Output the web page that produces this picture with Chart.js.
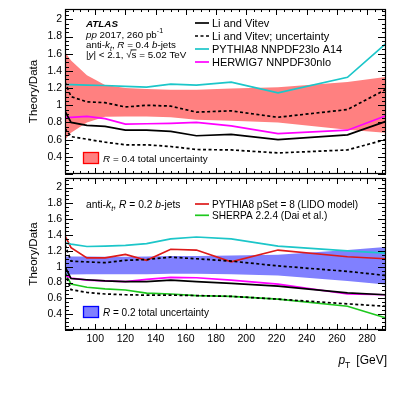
<!DOCTYPE html>
<html><head><meta charset="utf-8">
<script src="https://cdn.jsdelivr.net/npm/chart.js@4.4.0/dist/chart.umd.min.js"></script>
<style>
html,body{margin:0;padding:0;background:#fff;}
body{width:407px;height:396px;position:relative;overflow:hidden;}
canvas{position:absolute;left:0;}
</style></head>
<body>
<canvas id="c1" width="407" height="176" style="top:0px"></canvas>
<canvas id="c2" width="407" height="220" style="top:176px"></canvas>
<script>
// ---------------- data ----------------
const PT = [80, 84, 94.5, 106.5, 120, 134, 150, 167, 190, 221, 267, 292];
const X_TICKS = [100, 120, 140, 160, 180, 200, 220, 240, 260, 280];
const X_TICK_LABELS = ['100','120','140','160','180','200','220','240','260','280'];
const Y_TICKS = [0.4, 0.6, 0.8, 1.0, 1.2, 1.4, 1.6, 1.8, 2.0];
const Y_TICK_LABELS = ['0.4','0.6','0.8','1','1.2','1.4','1.6','1.8','2'];

// top panel, R = 0.4
const LV04      = [0.93, 0.80, 0.765, 0.755, 0.71, 0.71, 0.695, 0.645, 0.66, 0.60, 0.655, 0.81];
const LV04_UP   = [1.27, 1.10, 1.04, 1.03, 0.98, 1.00, 0.99, 0.92, 0.935, 0.86, 0.95, 1.18];
const LV04_DN   = [0.73, 0.635, 0.605, 0.57, 0.54, 0.54, 0.52, 0.485, 0.48, 0.445, 0.48, 0.60];
const PY04      = [1.24, 1.24, 1.235, 1.23, 1.22, 1.21, 1.245, 1.235, 1.27, 1.145, 1.325, 1.71];
const HW04      = [0.86, 0.86, 0.87, 0.845, 0.78, 0.785, 0.79, 0.80, 0.76, 0.67, 0.71, 0.875];
const UNC04_HI  = [1.62, 1.52, 1.35, 1.235, 1.20, 1.19, 1.18, 1.18, 1.195, 1.21, 1.27, 1.33];
const UNC04_LO  = [0.60, 0.68, 0.80, 0.865, 0.87, 0.87, 0.86, 0.83, 0.82, 0.80, 0.715, 0.68];

// bottom panel, R = 0.2
const LV02      = [1.00, 0.85, 0.835, 0.82, 0.81, 0.81, 0.83, 0.81, 0.79, 0.755, 0.67, 0.645];
const LV02_UP   = [1.28, 1.07, 1.06, 1.05, 1.08, 1.09, 1.12, 1.10, 1.07, 1.01, 0.94, 0.89];
const LV02_DN   = [0.92, 0.71, 0.675, 0.655, 0.645, 0.64, 0.64, 0.635, 0.625, 0.59, 0.53, 0.50];
const PY02      = [1.30, 1.285, 1.255, 1.26, 1.27, 1.29, 1.35, 1.375, 1.35, 1.26, 1.20, 1.17];
const HW02      = [0.89, 0.855, 0.83, 0.82, 0.81, 0.84, 0.865, 0.86, 0.83, 0.78, 0.655, 0.645];
const LIDO02    = [1.39, 1.24, 1.11, 1.11, 1.155, 1.08, 1.22, 1.21, 1.06, 1.21, 1.125, 1.10];
const SHERPA02  = [0.925, 0.78, 0.74, 0.72, 0.705, 0.665, 0.655, 0.635, 0.625, 0.59, 0.50, 0.355];
const UNC02_HI  = [1.13, 1.13, 1.13, 1.125, 1.125, 1.13, 1.135, 1.135, 1.14, 1.15, 1.21, 1.25];
const UNC02_LO  = [0.89, 0.90, 0.905, 0.905, 0.905, 0.905, 0.91, 0.91, 0.905, 0.89, 0.82, 0.775];

// ---------------- styles ----------------
const FONT = '"Liberation Sans", Arial, Helvetica, sans-serif';
const C_BLACK = '#000000', C_CYAN = '#1cc6c9', C_MAG = '#ff00ff', C_RED = '#dd1a1a', C_GREEN = '#1ec81e';
const C_BAND_R = '#ff8080', C_BAND_B = '#8080ff';
const DASH = [3, 2.5];

function pts(arr) { return PT.map((x, i) => ({x: x, y: arr[i]})); }
function line(arr, color, dash) {
  return {data: pts(arr), borderColor: color, backgroundColor: color, borderWidth: 1.7,
          borderDash: dash || [], pointRadius: 0, tension: 0, fill: false, order: 1};
}
function band(hi, lo, color) {
  return [
    {data: pts(hi), borderWidth: 0, borderColor: 'rgba(0,0,0,0)', backgroundColor: color, pointRadius: 0, tension: 0, fill: false, order: 5},
    {data: pts(lo), borderWidth: 0, borderColor: 'rgba(0,0,0,0)', backgroundColor: color, pointRadius: 0, tension: 0, fill: '-1', order: 5}
  ];
}

function setFont(ctx, size, italic, bold) {
  ctx.font = (italic ? 'italic ' : '') + (bold ? 'bold ' : '') + size + 'px ' + FONT;
}
function rich(ctx, x, y, segs, size, measureOnly) {
  let cx = x;
  for (const s of segs) {
    const fs = (s.sub || s.sup) ? size * 0.72 : size;
    setFont(ctx, fs, s.i, s.b);
    const dy = s.sub ? size * 0.3 : (s.sup ? -size * 0.42 : 0);
    const w = ctx.measureText(s.t).width;
    if (!measureOnly) {
      ctx.fillText(s.t, cx, y + dy);
      if (s.ov) ctx.fillRect(cx - 1, y - size * 0.82, w + 1, 0.9);
    }
    cx += w + (s.gap || 0);
  }
  return cx - x;
}

// frame + inward ticks on all four sides
const frameTicks = {
  id: 'frameTicks',
  afterDatasetsDraw(chart) {
    const {ctx, chartArea: a} = chart;
    const xs = chart.scales.x, ys = chart.scales.y;
    ctx.save();
    ctx.strokeStyle = '#000';
    ctx.lineWidth = 1;
    ctx.beginPath();
    for (let k = Math.ceil(ys.min * 20); k <= Math.floor(ys.max * 20); k++) {
      const py = Math.round(ys.getPixelForValue(k / 20)) + 0.5;
      const len = (k % 4 === 0) ? 8 : 4;
      ctx.moveTo(a.left, py); ctx.lineTo(a.left + len, py);
      ctx.moveTo(a.right, py); ctx.lineTo(a.right - len, py);
    }
    for (let k = Math.ceil(xs.min / 5); k <= Math.floor(xs.max / 5); k++) {
      const px = Math.round(xs.getPixelForValue(k * 5)) + 0.5;
      const len = ((k * 5) % 20 === 0) ? 6 : 3;
      ctx.moveTo(px, a.bottom); ctx.lineTo(px, a.bottom - len);
      ctx.moveTo(px, a.top); ctx.lineTo(px, a.top + len);
    }
    ctx.stroke();
    ctx.lineWidth = 1.2;
    ctx.strokeRect(Math.round(a.left) + 0.5, Math.round(a.top) + 0.5,
                   Math.round(a.right - a.left) - 1, Math.round(a.bottom - a.top) - 1);
    ctx.restore();
  }
};

function legendLine(ctx, x1, x2, y, color, dash) {
  ctx.save();
  ctx.strokeStyle = color; ctx.lineWidth = 1.7; ctx.setLineDash(dash || []);
  ctx.beginPath(); ctx.moveTo(x1, y); ctx.lineTo(x2, y); ctx.stroke();
  ctx.restore();
}
function legendBox(ctx, x, y, w, h, fill, stroke) {
  ctx.save();
  ctx.fillStyle = fill; ctx.fillRect(x, y, w, h);
  ctx.strokeStyle = stroke; ctx.lineWidth = 1.3; ctx.strokeRect(x + 0.5, y + 0.5, w - 1, h - 1);
  ctx.restore();
}

const topText = {
  id: 'topText',
  afterDraw(chart) {
    const ctx = chart.ctx;
    ctx.save();
    ctx.fillStyle = '#000'; ctx.textBaseline = 'alphabetic'; ctx.textAlign = 'left';
    const s = 9.8;
    rich(ctx, 86, 27, [{t: 'ATLAS', i: true, b: true}], s);
    rich(ctx, 86, 37.5, [{t: 'pp', i: true}, {t: ' 2017, 260 pb'}, {t: '-1', sup: true}], s);
    rich(ctx, 86, 48, [{t: 'anti-'}, {t: 'k', i: true}, {t: 't', sub: true, i: true}, {t: ', '}, {t: 'R', i: true},
                       {t: ' = 0.4 '}, {t: 'b', i: true}, {t: '-jets'}], s);
    rich(ctx, 86, 57.5, [{t: '|'}, {t: 'y', i: true}, {t: '| < 2.1, '}, {t: '\u221A'}, {t: 's', ov: true},
                       {t: ' = 5.02 TeV'}], s);
    const L = [['Li and Vitev', C_BLACK, null], ['Li and Vitev; uncertainty', C_BLACK, DASH],
               ['PYTHIA8 NNPDF23lo A14', C_CYAN, null], ['HERWIG7 NNPDF30nlo', C_MAG, null]];
    L.forEach((e, i) => {
      const yc = 23 + 13 * i;
      legendLine(ctx, 195, 209, yc, e[1], e[2]);
      rich(ctx, 212, yc + 4, [{t: e[0]}], 11);
    });
    legendBox(ctx, 83, 152, 16, 12, C_BAND_R, '#ff0000');
    rich(ctx, 103, 161.5, [{t: 'R', i: true}, {t: ' = 0.4 total uncertainty'}], 9.9);
    ctx.restore();
  }
};

const botText = {
  id: 'botText',
  afterDraw(chart) {
    const ctx = chart.ctx;
    ctx.save();
    ctx.fillStyle = '#000'; ctx.textBaseline = 'alphabetic'; ctx.textAlign = 'left';
    rich(ctx, 86, 31.5, [{t: 'anti-'}, {t: 'k', i: true}, {t: 't', sub: true, i: true}, {t: ', '}, {t: 'R', i: true},
                       {t: ' = 0.2 '}, {t: 'b', i: true}, {t: '-jets'}], 10.3);
    const L = [['PYTHIA8 pSet = 8 (LIDO model)', C_RED], ['SHERPA 2.2.4 (Dai et al.)', C_GREEN]];
    L.forEach((e, i) => {
      const yc = 28 + 11.3 * i;
      legendLine(ctx, 195, 209, yc, e[1]);
      rich(ctx, 212, yc + 3.7, [{t: e[0]}], 10.1);
    });
    legendBox(ctx, 83, 130, 16, 12, C_BAND_B, '#0000ff');
    rich(ctx, 103, 139.5, [{t: 'R', i: true}, {t: ' = 0.2 total uncertainty'}], 10);
    // x-axis title
    const segs = [{t: 'p', i: true}, {t: 'T', sub: true, gap: 6}, {t: '[GeV]'}];
    const w = rich(ctx, 0, 0, segs, 12, true);
    rich(ctx, chart.chartArea.right + 1 - w, 188, segs, 12);
    ctx.restore();
  }
};

function yScale() {
  return {
    type: 'linear', min: 0.2, max: 2.12,
    afterBuildTicks: s => { s.ticks = Y_TICKS.map(v => ({value: v})); },
    afterFit: s => { s.width = 65; s.paddingTop = 0; s.paddingBottom = 0; },
    grid: {display: false, drawTicks: false},
    border: {display: false},
    ticks: {color: '#000', padding: 3, font: {family: FONT, size: 10.5},
            callback: v => Y_TICK_LABELS[Y_TICKS.findIndex(t => Math.abs(t - v) < 1e-6)]},
    title: {display: true, text: 'Theory/Data', color: '#000', font: {family: FONT, size: 11.5},
            padding: {top: 27, bottom: 0}}
  };
}
function xScale(show) {
  return {
    type: 'linear', min: 80, max: 292.5, display: show,
    afterBuildTicks: s => { s.ticks = X_TICKS.map(v => ({value: v})); },
    afterFit: s => { if (show) s.height = 66; s.paddingLeft = 0; s.paddingRight = 0; },
    grid: {display: false, drawTicks: false},
    border: {display: false},
    ticks: {color: '#000', padding: 3, maxRotation: 0, autoSkip: false, font: {family: FONT, size: 10.5},
            callback: v => X_TICK_LABELS[X_TICKS.indexOf(v)]}
  };
}
function baseOptions(pad, showX) {
  return {
    responsive: false, animation: false, devicePixelRatio: 1,
    layout: {padding: pad},
    plugins: {legend: {display: false}, tooltip: {enabled: false}, filler: {drawTime: 'beforeDatasetsDraw'}},
    scales: {x: xScale(showX), y: yScale()}
  };
}

new Chart(document.getElementById('c1'), {
  type: 'line',
  data: {datasets: [
    ...band(UNC04_HI, UNC04_LO, C_BAND_R),
    line(LV04, C_BLACK), line(LV04_UP, C_BLACK, DASH), line(LV04_DN, C_BLACK, DASH),
    line(PY04, C_CYAN), line(HW04, C_MAG)
  ]},
  options: baseOptions({top: 9, right: 21, bottom: 2, left: 0}, false),
  plugins: [frameTicks, topText]
});

new Chart(document.getElementById('c2'), {
  type: 'line',
  data: {datasets: [
    ...band(UNC02_HI, UNC02_LO, C_BAND_B),
    line(LV02, C_BLACK), line(LV02_UP, C_BLACK, DASH), line(LV02_DN, C_BLACK, DASH),
    line(PY02, C_CYAN), line(HW02, C_MAG), line(LIDO02, C_RED), line(SHERPA02, C_GREEN)
  ]},
  options: baseOptions({top: 2, right: 21, bottom: 0, left: 0}, true),
  plugins: [frameTicks, botText]
});
</script>
</body></html>
